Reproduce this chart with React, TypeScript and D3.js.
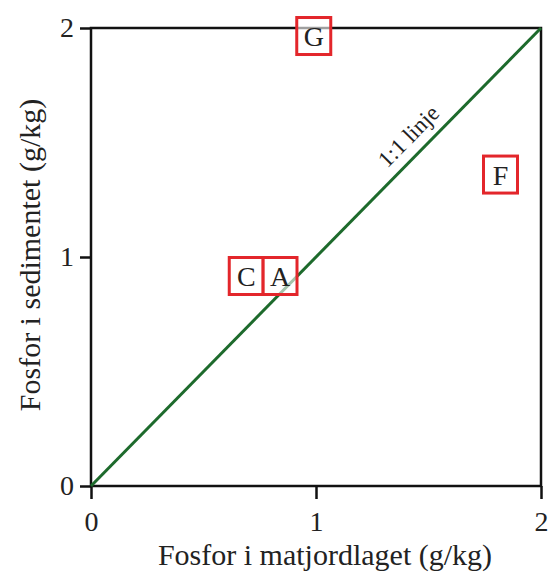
import React, { useRef, useEffect } from 'react';
import * as d3 from 'd3';

const sites = ['G', 'F', 'C', 'A'];
const topsoilP = [0.99, 1.82, 0.69, 0.84];
const sedimentP = [1.965, 1.36, 0.917, 0.917];
const tickValues = [0, 1, 2];
const lineLabel = '1:1 linje';

const App = () => {
    const svgRef = useRef<SVGSVGElement>(null);

    useEffect(() => {
        const svg = d3.select(svgRef.current);
        svg.selectAll('*').remove();

        const font = '"Liberation Serif", "Times New Roman", serif';
        const left = 91, right = 541, top = 28, bottom = 486;

        const x = d3.scaleLinear().domain([0, 2]).range([left, right]);
        const y = d3.scaleLinear().domain([0, 2]).range([bottom, top]);

        // frame
        svg.append('rect')
           .attr('x', left).attr('y', top)
           .attr('width', right - left).attr('height', bottom - top)
           .attr('fill', 'none').attr('stroke', '#111').attr('stroke-width', 2.5);

        // axes
        const xAxis = d3.axisBottom(x).tickValues(tickValues).tickFormat(d3.format('d')).tickSize(13).tickPadding(12);
        const yAxis = d3.axisLeft(y).tickValues(tickValues).tickFormat(d3.format('d')).tickSize(11).tickPadding(6);

        const gx = svg.append('g').attr('transform', `translate(0,${bottom})`).call(xAxis);
        const gy = svg.append('g').attr('transform', `translate(${left},0)`).call(yAxis);
        [gx, gy].forEach(g => {
            g.select('.domain').remove();
            g.selectAll('line').attr('stroke', '#111').attr('stroke-width', 2.5);
            g.selectAll('text').attr('fill', '#222').style('font-family', font).style('font-size', '28px');
        });

        // 1:1 line
        svg.append('line')
           .attr('x1', x(0)).attr('y1', y(0))
           .attr('x2', x(2)).attr('y2', y(2))
           .attr('stroke', '#1d6a2c').attr('stroke-width', 3);

        const ang = Math.atan2(y(2) - y(0), x(2) - x(0)) * 180 / Math.PI;
        svg.append('text')
           .attr('transform', `translate(${x(1.47)},${y(1.47)}) rotate(${ang}) translate(0,-11)`)
           .attr('text-anchor', 'middle')
           .style('font-family', font).style('font-size', '23px').attr('fill', '#222')
           .text(lineLabel);

        // site boxes
        const w = 34, h = 37;
        const g = svg.append('g').selectAll('g')
           .data(sites.map((s, i) => ({ s, xv: topsoilP[i], yv: sedimentP[i] })))
           .join('g')
           .attr('transform', d => `translate(${x(d.xv)},${y(d.yv)})`);
        g.append('rect')
           .attr('x', -w / 2).attr('y', -h / 2).attr('width', w).attr('height', h)
           .attr('fill', 'white').attr('fill-opacity', 0.6)
           .attr('stroke', '#e3262b').attr('stroke-width', 3);
        g.append('text')
           .attr('text-anchor', 'middle').attr('dy', '0.36em')
           .style('font-family', font).style('font-size', '28px').attr('fill', '#222')
           .text(d => d.s);

        // axis titles
        svg.append('text')
           .attr('x', 325).attr('y', 565)
           .attr('text-anchor', 'middle')
           .style('font-family', font).style('font-size', '30px').attr('fill', '#222')
           .text('Fosfor i matjordlaget (g/kg)');
        svg.append('text')
           .attr('transform', `translate(40,255) rotate(-90)`)
           .attr('text-anchor', 'middle')
           .style('font-family', font).style('font-size', '30px').attr('fill', '#222')
           .text('Fosfor i sedimentet (g/kg)');
    }, []);

    return <svg ref={svgRef} width={550} height={573} style={{ position: 'absolute', left: 0, top: 0 }}></svg>;
};

export default App;
